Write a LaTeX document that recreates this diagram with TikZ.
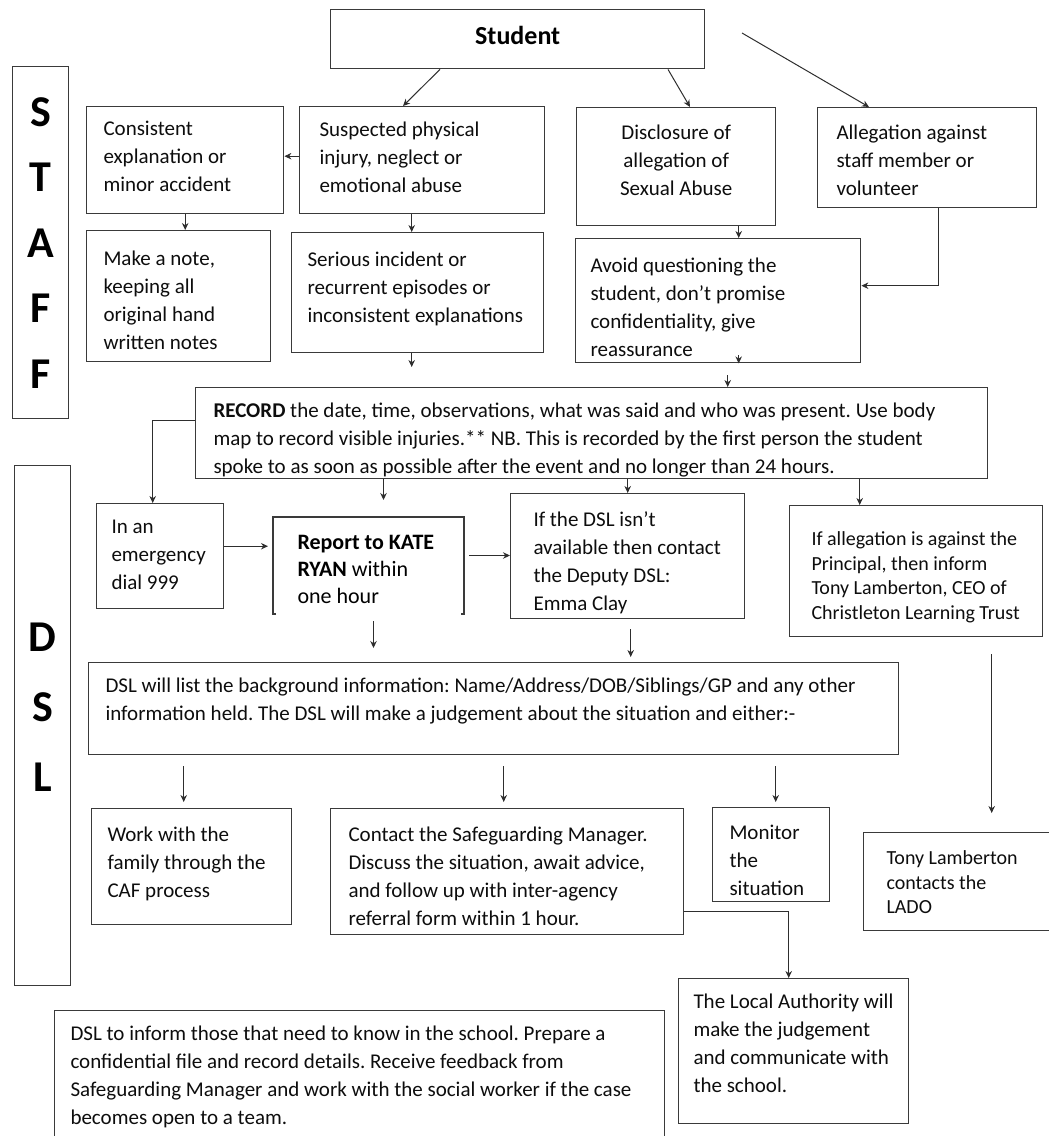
\documentclass[tikz,border=0pt]{standalone}
\usepackage{fontspec}
\setmainfont{Carlito}
\usetikzlibrary{arrows.meta}

\definecolor{boxgray}{HTML}{3A3A3A}
\definecolor{arrowgray}{HTML}{2E2E2E}

\begin{document}
\frenchspacing
\begin{tikzpicture}[
        x=1pt, y=-1pt,
        ->, >={Stealth[length=7pt,width=6.5pt]}, line width=1pt, draw=arrowgray,
        box/.style={draw=boxgray, line width=1.4pt, anchor=north west, inner sep=0pt},
        openbox/.style={anchor=north west, inner sep=0pt},
        txt/.style={anchor=north west, align=left, inner sep=0pt, text=black!95,
                font=\fontsize{21}{28}\selectfont},
        lighttxt/.style={txt, font=\fontsize{20}{24.7}\selectfont},
        side/.style={align=center, inner sep=0pt, text=black,
                font=\fontsize{44}{65.5}\selectfont\bfseries}
    ]
    \useasboundingbox (0,0) rectangle (1049,1136);

    % side labels
    \node[box, minimum width=56, minimum height=352] (staff) at (12,66) {};
    \node[side] (staff-t) at (staff.center) {S\\T\\A\\F\\F};
    \node[box, minimum width=56, minimum height=520] (dsl) at (14,465) {};
    \node[side, font=\fontsize{44}{70}\selectfont\bfseries] (dsl-t) at ([yshift=18pt]dsl.center) {D\\S\\L};

    % staff part
    \node[box, minimum width=374, minimum height=59] (student) at (330,9) {};
    \node[font=\fontsize{26}{30}\selectfont\bfseries] (student-t) at ([yshift=4pt]student.center) {Student};
    \coordinate (student-ray) at (742,33);

    \node[box, minimum width=197, minimum height=107] (cons) at (86,106) {};
    \node[txt] (cons-t) at ([shift={(17pt,-15pt)}]cons.north west) {Consistent\\explanation or\\minor accident};
    \node[box, minimum width=245, minimum height=107] (susp) at (299,106) {};
    \node[txt] (susp-t) at ([shift={(20pt,-15pt)}]susp.north west) {Suspected physical\\injury, neglect or\\emotional abuse};
    \node[box, minimum width=199, minimum height=118] (discl) at (576,107) {};
    \node[txt, anchor=north, align=center] (discl-t) at ([yshift=-17pt]discl.north) {Disclosure of\\allegation of\\Sexual Abuse};
    \node[box, minimum width=219, minimum height=100] (alleg) at (817,107) {};
    \node[txt] (alleg-t) at ([shift={(19pt,-17pt)}]alleg.north west) {Allegation against\\staff member or\\volunteer};

    \node[box, minimum width=184, minimum height=131] (note) at (86,230) {};
    \node[txt] (note-t) at ([shift={(17pt,-20pt)}]note.north west) {Make a note,\\keeping all\\original hand\\written notes};
    \node[box, minimum width=252, minimum height=120] (serious) at (291,232) {};
    \node[txt] (serious-t) at ([shift={(16pt,-19pt)}]serious.north west) {Serious incident or\\recurrent episodes or\\inconsistent explanations};
    \node[box, minimum width=285, minimum height=124] (avoid) at (575,238) {};
    \node[txt] (avoid-t) at ([shift={(15pt,-19pt)}]avoid.north west) {Avoid questioning the\\student, don’t promise\\confidentiality, give\\reassurance};

    \node[box, minimum width=792, minimum height=91] (record) at (195,387) {};
    \node[txt] (record-t) at ([shift={(18pt,-15pt)}]record.north west) {\textbf{RECORD} the date, time, observations, what was said and who was present. Use body\\map to record visible injuries.** NB. This is recorded by the first person the student\\spoke to as soon as possible after the event and no longer than 24 hours.};

    % dsl part
    \node[box, minimum width=127, minimum height=105] (emerg) at (96,503) {};
    \node[txt] (emerg-t) at ([shift={(15pt,-17pt)}]emerg.north west) {In an\\emergency\\dial 999};
    \node[openbox, minimum width=190, minimum height=96] (report) at (273,517) {};
    \draw[-, draw=boxgray, line width=1.4pt] ([xshift=3pt]report.south west) -- (report.south west) -- (report.north west)
        -- (report.north east) -- (report.south east) -- ([xshift=-3pt]report.south east);
    \node[txt, font=\fontsize{22}{26.7}\selectfont, text=black] (report-t) at ([shift={(24pt,-18pt)}]report.north west) {\textbf{Report to KATE}\\\textbf{RYAN} within\\one hour};
    \node[box, minimum width=234, minimum height=125] (deputy) at (510,493) {};
    \node[txt] (deputy-t) at ([shift={(23pt,-18pt)}]deputy.north west) {If the DSL isn’t\\available then contact\\the Deputy DSL:\\Emma Clay};
    \node[box, minimum width=253, minimum height=131] (princ) at (789,505) {};
    \node[lighttxt] (princ-t) at ([shift={(22pt,-26pt)}]princ.north west) {If allegation is against the\\Principal, then inform\\Tony Lamberton, CEO of\\Christleton Learning Trust};

    \node[box, minimum width=810, minimum height=92] (dsllist) at (88,662) {};
    \node[txt] (dsllist-t) at ([shift={(17pt,-15pt)}]dsllist.north west) {DSL will list the background information: Name/Address/DOB/Siblings/GP and any other\\information held. The DSL will make a judgement about the situation and either:-};

    \node[box, minimum width=200, minimum height=116] (work) at (91,808) {};
    \node[txt] (work-t) at ([shift={(16pt,-18pt)}]work.north west) {Work with the\\family through the\\CAF process};
    \node[box, minimum width=353, minimum height=126] (contact) at (330,808) {};
    \node[txt] (contact-t) at ([shift={(18pt,-18pt)}]contact.north west) {Contact the Safeguarding Manager.\\Discuss the situation, await advice,\\and follow up with inter-agency\\referral form within 1 hour.};
    \node[box, minimum width=117, minimum height=94] (monitor) at (712,807) {};
    \node[txt] (monitor-t) at ([shift={(17pt,-18pt)}]monitor.north west) {Monitor\\the\\situation};
    \node[box, minimum width=195, minimum height=98] (lado) at (863,832) {};
    \node[lighttxt] (lado-t) at ([shift={(23pt,-18pt)}]lado.north west) {Tony Lamberton\\contacts the\\LADO};

    \node[box, minimum width=230, minimum height=145] (local) at (678,978) {};
    \node[txt] (local-t) at ([shift={(15pt,-15pt)}]local.north west) {The Local Authority will\\make the judgement\\and communicate with\\the school.};
    \node[box, minimum width=610, minimum height=140] (inform) at (54,1010) {};
    \node[txt] (inform-t) at ([shift={(16pt,-15pt)}]inform.north west) {DSL to inform those that need to know in the school. Prepare a\\confidential file and record details. Receive feedback from\\Safeguarding Manager and work with the social worker if the case\\becomes open to a team.};

    % connectors
    \draw ([xshift=110pt]student.south west) -- ([xshift=104pt]susp.north west);
    \draw ([xshift=338pt]student.south west) -- ([xshift=114pt]discl.north west);
    \draw (student-ray) -- ([xshift=52pt]alleg.north west);
    \draw ([yshift=4pt]susp.west) -- ([yshift=4pt]cons.east);
    \draw (cons.south) -- (cons.south |- note.north);
    \draw ([xshift=-10.5pt]susp.south) -- ([xshift=-10.5pt]susp.south |- serious.north);
    \draw ([xshift=62.5pt]discl.south) -- ([xshift=62.5pt]discl.south |- avoid.north);
    \draw ([xshift=11.5pt]alleg.south) |- ([yshift=15pt]avoid.east);
    \draw[shorten >=20pt] ([xshift=-6pt]serious.south) -- ([xshift=-6pt]serious.south |- record.north);
    \draw ([xshift=20.5pt,yshift=8pt]avoid.south) -- ([xshift=20.5pt]avoid.south);
    \draw ([xshift=9.5pt,yshift=-12pt]avoid.south) -- ([xshift=9.5pt]avoid.south |- record.north);

    \draw ([yshift=12.5pt]record.west) -| ([xshift=-7.5pt]emerg.north);
    \draw[shorten >=17pt] ([xshift=15pt]report.north |- record.south) -- ([xshift=15pt]report.north);
    \draw (deputy.north |- record.south) -- (deputy.north);
    \draw ([xshift=-56.5pt]princ.north |- record.south) -- ([xshift=-56.5pt]princ.north);
    \draw[shorten >=5pt] ([yshift=10pt]emerg.east) -- ([yshift=10pt]emerg.east -| report.west);
    \draw[shorten <=5pt] ([yshift=10pt]report.east) -- ([yshift=10pt]report.east -| deputy.west);
    \draw[shorten <=7pt, shorten >=14pt] ([xshift=5pt]report.south) -- ([xshift=5pt]report.south |- dsllist.north);
    \draw[shorten <=10pt, shorten >=5pt] ([xshift=3pt]deputy.south) -- ([xshift=3pt]deputy.south |- dsllist.north);
    \draw[shorten <=17pt, shorten >=19pt] ([xshift=75.5pt]princ.south) -- ([xshift=75.5pt]princ.south |- lado.north);

    \draw[shorten <=11pt, shorten >=6pt] ([xshift=-8pt]work.north |- dsllist.south) -- ([xshift=-8pt]work.north);
    \draw[shorten <=11pt, shorten >=6pt] ([xshift=-3.5pt]contact.north |- dsllist.south) -- ([xshift=-3.5pt]contact.north);
    \draw[shorten <=11pt, shorten >=5pt] ([xshift=4.5pt]monitor.north |- dsllist.south) -- ([xshift=4.5pt]monitor.north);
    \draw ([yshift=-40pt]contact.east) -| ([xshift=-5pt]local.north);
\end{tikzpicture}
\end{document}
